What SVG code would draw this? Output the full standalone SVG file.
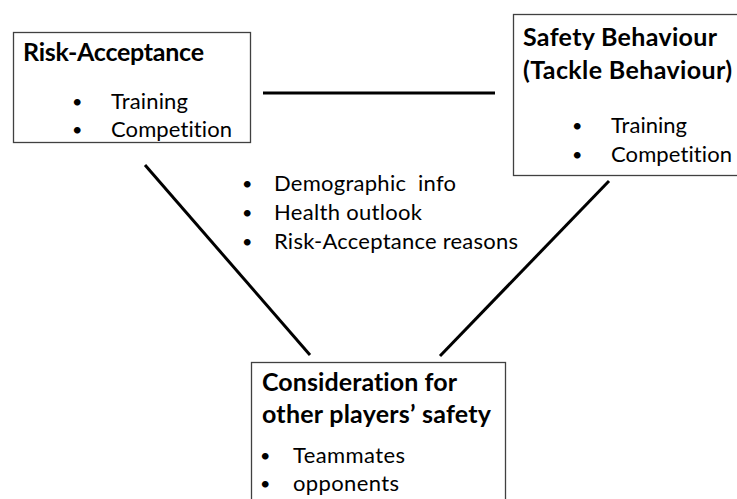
<svg xmlns="http://www.w3.org/2000/svg" width="737" height="499" viewBox="0 0 737 499">
<style>
.box{fill:#fff;stroke:#404040;stroke-width:1.3}
.conn{stroke:#000;stroke-width:3;fill:none}
.t{font-family:Lato,"Liberation Sans",sans-serif;font-size:22px;fill:#000;font-variant-ligatures:none}
.b{font-family:Lato,"Liberation Sans",sans-serif;font-size:18px;fill:#000}
.h{font-family:Lato,"Liberation Sans",sans-serif;font-size:25px;font-weight:bold;fill:#000;font-variant-ligatures:none}
</style>
<rect width="737" height="499" fill="#fff"/>
<g id="connectors">
<line class="conn" x1="263" y1="93" x2="495" y2="93"/>
<line class="conn" x1="145" y1="165" x2="310" y2="355"/>
<line class="conn" x1="609" y1="181" x2="440" y2="356"/>
</g>
<g id="risk-acceptance">
<rect class="box" x="13.5" y="32.5" width="237" height="110"/>
<text class="h" x="23" y="61" textLength="181">Risk-Acceptance</text>
<text class="b" x="72" y="108">•</text>
<text class="t" x="111" y="109" textLength="77">Training</text>
<text class="b" x="72" y="136">•</text>
<text class="t" x="111" y="137" textLength="121">Competition</text>
</g>
<g id="safety-behaviour">
<rect class="box" x="513.5" y="14.5" width="230" height="161"/>
<text class="h" x="523" y="46" textLength="194">Safety Behaviour</text>
<text class="h" x="523" y="79" textLength="209">(Tackle Behaviour)</text>
<text class="b" x="572" y="132">•</text>
<text class="t" x="611" y="133" textLength="76">Training</text>
<text class="b" x="572" y="161">•</text>
<text class="t" x="611" y="162" textLength="121">Competition</text>
</g>
<g id="info">
<text class="b" x="242" y="190">•</text>
<text class="t" x="274" y="191" textLength="182" xml:space="preserve">Demographic  info</text>
<text class="b" x="242" y="219">•</text>
<text class="t" x="274" y="220" textLength="148">Health outlook</text>
<text class="b" x="242" y="248">•</text>
<text class="t" x="274" y="249" textLength="244">Risk-Acceptance reasons</text>
</g>
<g id="consideration">
<rect class="box" x="251.5" y="362.5" width="254" height="150"/>
<text class="h" x="262" y="391" textLength="195">Consideration for</text>
<text class="h" x="262" y="423" textLength="229">other players’ safety</text>
<text class="b" x="260" y="462">•</text>
<text class="t" x="293" y="463" textLength="112">Teammates</text>
<text class="b" x="260" y="490">•</text>
<text class="t" x="293" y="491" textLength="106">opponents</text>
</g>
</svg>
